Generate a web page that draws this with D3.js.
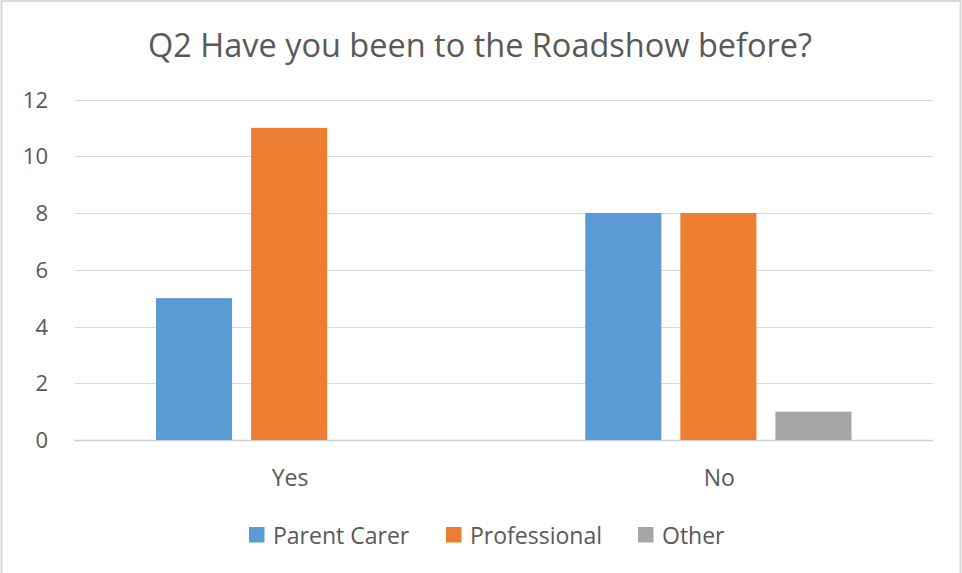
<!DOCTYPE html>
<html>
<head>
<meta charset="utf-8">
<script src="https://cdn.jsdelivr.net/npm/d3@7"></script>
<style>
  body { margin: 0; background: #fff; }
  text { font-family: "Open Sans", Lato, sans-serif; fill: #595959; }
</style>
</head>
<body>
<div id="chart"></div>
<script>
// chart data
var categories = ["Yes", "No"];
var seriesNames = ["Parent Carer", "Professional", "Other"];
var parentCarer = [5, 8];
var professional = [11, 8];
var other = [0, 1];
var yTicks = [0, 2, 4, 6, 8, 10, 12];
var colors = ["#5B9BD5", "#ED7D31", "#A5A5A5"];

var width = 962,
    height = 573;

var svg = d3.select("#chart").append("svg")
    .attr("width", width)
    .attr("height", height);

// light frame like the excel chart area
svg.append("path")
    .attr("d", "M1.5," + height + " L1.5,1 L960.5,1 L960.5," + height)
    .attr("fill", "none")
    .attr("stroke", "#D9D9D9")
    .attr("stroke-width", 2);

var plotLeft = 74.5, plotRight = 933, plotTop = 99.5, plotBottom = 440;

var x0 = d3.scaleBand().domain(categories).range([plotLeft, plotRight]).padding(0);
var y = d3.scaleLinear().domain([0, 12]).range([plotBottom, plotTop]);

// bars inside each category: 3 bars of ~76px with ~19px gaps
var groupPad = 81.5;
var x1 = d3.scaleBand().domain(seriesNames)
    .range([groupPad, x0.bandwidth() - groupPad])
    .paddingInner(0.2);

// gridlines
svg.append("g").selectAll("line")
    .data(yTicks)
    .enter()
    .append("line")
    .attr("x1", plotLeft)
    .attr("x2", plotRight)
    .attr("y1", function(d) { return Math.round(y(d)) + 0.5; })
    .attr("y2", function(d) { return Math.round(y(d)) + 0.5; })
    .attr("stroke", function(d) { return d == 0 ? "#D0D0D0" : "#D9D9D9"; })
    .attr("stroke-width", function(d) { return d == 0 ? 1.6 : 1.2; });

// y tick labels
svg.append("g").selectAll("text")
    .data(yTicks)
    .enter()
    .append("text")
    .attr("x", 48)
    .attr("y", function(d) { return y(d) + 8; })
    .attr("text-anchor", "end")
    .style("font-size", "22px")
    .text(function(d) { return d; });

var table = [parentCarer, professional, other];

var groups = svg.append("g").selectAll("g")
    .data(categories)
    .enter()
    .append("g")
    .attr("transform", function(d) { return "translate(" + x0(d) + ",0)"; });

groups.selectAll("rect")
    .data(function(d, i) {
        return seriesNames.map(function(s, j) { return { key: s, value: table[j][i], color: colors[j] }; });
    })
    .enter()
    .append("rect")
    .attr("x", function(d) { return x1(d.key); })
    .attr("width", x1.bandwidth())
    .attr("y", function(d) { return y(d.value); })
    .attr("height", function(d) { return y(0) - y(d.value); })
    .attr("fill", function(d) { return d.color; });

// category labels
svg.append("g").selectAll("text")
    .data(categories)
    .enter()
    .append("text")
    .attr("x", function(d) { return x0(d) + x0.bandwidth() / 2 + 1; })
    .attr("y", 486)
    .attr("text-anchor", "middle")
    .style("font-size", "23px")
    .text(function(d) { return d; });

// title
svg.append("text")
    .attr("x", 148)
    .attr("y", 57)
    .attr("textLength", 664)
    .attr("lengthAdjust", "spacingAndGlyphs")
    .style("font-size", "32px")
    .text("Q2 Have you been to the Roadshow before?");

// legend
var legendX = [249, 446, 638];
var legend = svg.append("g").selectAll("g")
    .data(seriesNames)
    .enter()
    .append("g")
    .attr("transform", function(d, i) { return "translate(" + legendX[i] + ",527)"; });

legend.append("rect")
    .attr("width", 15.5)
    .attr("height", 15.5)
    .attr("fill", function(d, i) { return colors[i]; });

legend.append("text")
    .attr("x", 24)
    .attr("y", 17)
    .style("font-size", "23px")
    .text(function(d) { return d; });
</script>
</body>
</html>
